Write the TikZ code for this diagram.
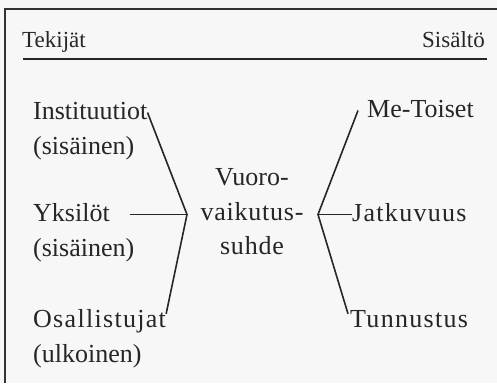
\documentclass[tikz,border=0pt]{standalone}
\usepackage{fontspec}
\setmainfont{Liberation Serif}
\newfontfamily\spaced[LetterSpace=5]{Liberation Serif}
\newfontfamily\halfspaced[LetterSpace=3]{Liberation Serif}
\usetikzlibrary{positioning, calc}
\tikzstyle{line} = [line width=1.6pt, draw=black!85]
\tikzstyle{frame} = [line width=2pt, draw=black!80]
\tikzstyle{word} = [inner sep=0pt, text height=18pt, text depth=5pt, text=black!85, font=\fontsize{26}{34}\selectfont]
\tikzstyle{head} = [word, font=\fontsize{23}{28}\selectfont]

\begin{document}
\begin{tikzpicture}[x=1pt, y=-1pt]
    \useasboundingbox[fill=black!3] (0,0) rectangle (497,383);
    % Frame and header
    \draw[frame] (5,383) -- (5,9) -- (497,9);
    \node[head, anchor=base west] (tek) at (22,47) {Tekijät};
    \node[head, anchor=base east] (sis) at (485,47) {Sisältö};
    \draw[line] ($(tek.base west)+(1,12)$) -- ($(sis.base east)+(2,12)$);

    % Actors
    \node[word, anchor=base west] (inst) at (33,119) {Instituutiot};
    \node[word, below=12pt of inst.south west, anchor=north west] (inst-s) {(sisäinen)};
    \node[word, anchor=base west] (yks) at (33,221) {Yksilöt};
    \node[word, below=12pt of yks.south west, anchor=north west] (yks-s) {(sisäinen)};
    \node[word, anchor=base west] (osal) at (33,327) {\spaced Osallistujat};
    \node[word, below=12pt of osal.south west, anchor=north west] (osal-s) {(ulkoinen)};

    % Interaction
    \node[word, anchor=base] (vaik) at (252,220) {\halfspaced vaikutus-};
    \node[word, above=11pt of vaik] (vuoro) {Vuoro-};
    \node[word, below=11pt of vaik] (suhde) {\halfspaced suhde};

    % Content
    \node[word, anchor=base west] (meto) at (367,117) {Me-Toiset};
    \node[word, anchor=base west] (jatk) at (352,221) {\spaced Jatkuvuus};
    \node[word, anchor=base west] (tunn) at (350,327) {\spaced Tunnustus};

    % Lines
    \coordinate (lapex) at (187,214.5);
    \coordinate (rapex) at (318,214.5);
    \draw[line] (inst.east) -- (lapex) -- ($(osal.north east)+(0,5)$);
    \draw[line, shorten <=20pt] (yks.east) -- (lapex);
    \draw[line] ($(meto.west)+(-9,0)$) -- (rapex) -- ($(tunn.north west)+(-2,5)$);
    \draw[line] (rapex) -- (jatk.west);

\end{tikzpicture}
\end{document}
